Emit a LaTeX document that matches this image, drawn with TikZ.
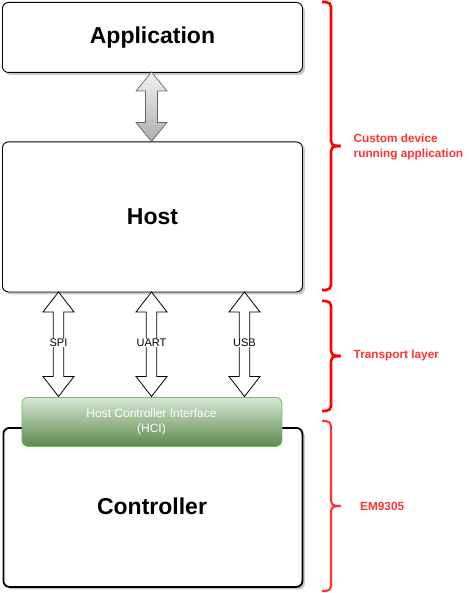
\documentclass[tikz,border=0pt]{standalone}
\usepackage{fontspec}
\setmainfont{Liberation Sans}
\usetikzlibrary{shadows}
\definecolor{hcitop}{HTML}{D5E8D4}
\definecolor{hcibot}{HTML}{5C8A4C}
\definecolor{hciborder}{HTML}{82B366}
\definecolor{lblred}{HTML}{FF3333}
\tikzset{
  box/.style={draw=black, fill=white, rounded corners=6pt, line width=0.9pt,
    drop shadow={shadow xshift=2.5pt, shadow yshift=-2.5pt, fill=black, opacity=0.22}},
  bigtxt/.style={font=\fontsize{23}{27}\selectfont\bfseries},
  hci/.style={draw=hciborder, rounded corners=6pt, line width=0.8pt, top color=hcitop, bottom color=hcibot},
  grayarrow/.style={draw=black!60, line width=0.7pt, top color=white!95!black, bottom color=black!32},
  whitearrow/.style={draw=black, line width=0.8pt, fill=white},
  iflabel/.style={font=\fontsize{11}{12}\selectfont, fill=white, inner sep=0.6pt},
  brace/.style={draw=red, line width=2.6pt, rounded corners=5pt},
  bracelight/.style={draw=lblred, line width=2.1pt, rounded corners=5pt},
  redtxt/.style={text=lblred, font=\fontsize{11.8}{15}\selectfont\bfseries, align=left, anchor=west, inner sep=0pt}
}
\newcommand{\dblarrowpath}[7]{% style, cx, y1, y2, hw, sw, hl
  \path[#1] (#2,#3) -- (#2+#5,#3+#7) -- (#2+#6,#3+#7) -- (#2+#6,#4-#7) -- (#2+#5,#4-#7) -- (#2,#4)
    -- (#2-#5,#4-#7) -- (#2-#6,#4-#7) -- (#2-#6,#3+#7) -- (#2-#5,#3+#7) -- cycle;}
\begin{document}
\begin{tikzpicture}[x=1pt,y=-1pt]
\useasboundingbox (0,0) rectangle (471,593);

% boxes
\node[box, minimum width=300pt, minimum height=70pt, anchor=north west] (app) at (2,2) {};
\node[bigtxt] (apptxt) at (app.center) {Application};
\node[box, minimum width=300pt, minimum height=150pt, anchor=north west] (host) at (2,141.5) {};
\node[bigtxt] (hosttxt) at (host.center) {Host};
\node[box, line width=1.8pt, minimum width=299pt, minimum height=159pt, anchor=north west] (ctrl) at (2.5,427) {};
\node[bigtxt] (ctrltxt) at (152,506) {Controller};

% gray arrow app <-> host
\dblarrowpath{grayarrow}{151.5}{72}{141.5}{15.5}{6}{19}

% transport arrows
\dblarrowpath{whitearrow}{58.5}{292}{396.5}{15.5}{5.3}{20}
\dblarrowpath{whitearrow}{151.5}{292}{396.5}{15.5}{5.3}{20}
\dblarrowpath{whitearrow}{244.5}{292}{396.5}{15.5}{5.3}{20}
\node[iflabel] (spi) at (58.5,343) {SPI};
\node[iflabel] (uart) at (151.5,343) {UART};
\node[iflabel] (usb) at (244.5,343) {USB};

% HCI
\node[hci, minimum width=260pt, minimum height=49pt, anchor=north west] (hcibox) at (21.5,397) {};
\node[text=white, font=\fontsize{12}{15}\selectfont, align=center] (hcitxt) at (151.5,422) {Host Controller Interface\\(HCI)};

% braces
\coordinate (b1t) at (340.5,146);
\draw[brace] (322,2) -- (331,2) -- (331,146) -- (b1t);
\draw[brace] (b1t) -- (331,146) -- (331,290) -- (322,290);
\coordinate (b2t) at (340.5,356);
\draw[brace] (322,301) -- (331,301) -- (331,356) -- (b2t);
\draw[brace] (b2t) -- (331,356) -- (331,411) -- (322,411);
\coordinate (b3t) at (340.5,506);
\draw[bracelight] (322,421) -- (331,421) -- (331,506) -- (b3t);
\draw[bracelight] (b3t) -- (331,506) -- (331,591) -- (322,591);

\node[redtxt] (lbl1) at (353.5,147) {Custom device\\running application};
\node[redtxt] (lbl2) at (353.5,355.5) {Transport layer};
\node[redtxt] (lbl3) at (360,506) {EM9305};
\end{tikzpicture}
\end{document}
